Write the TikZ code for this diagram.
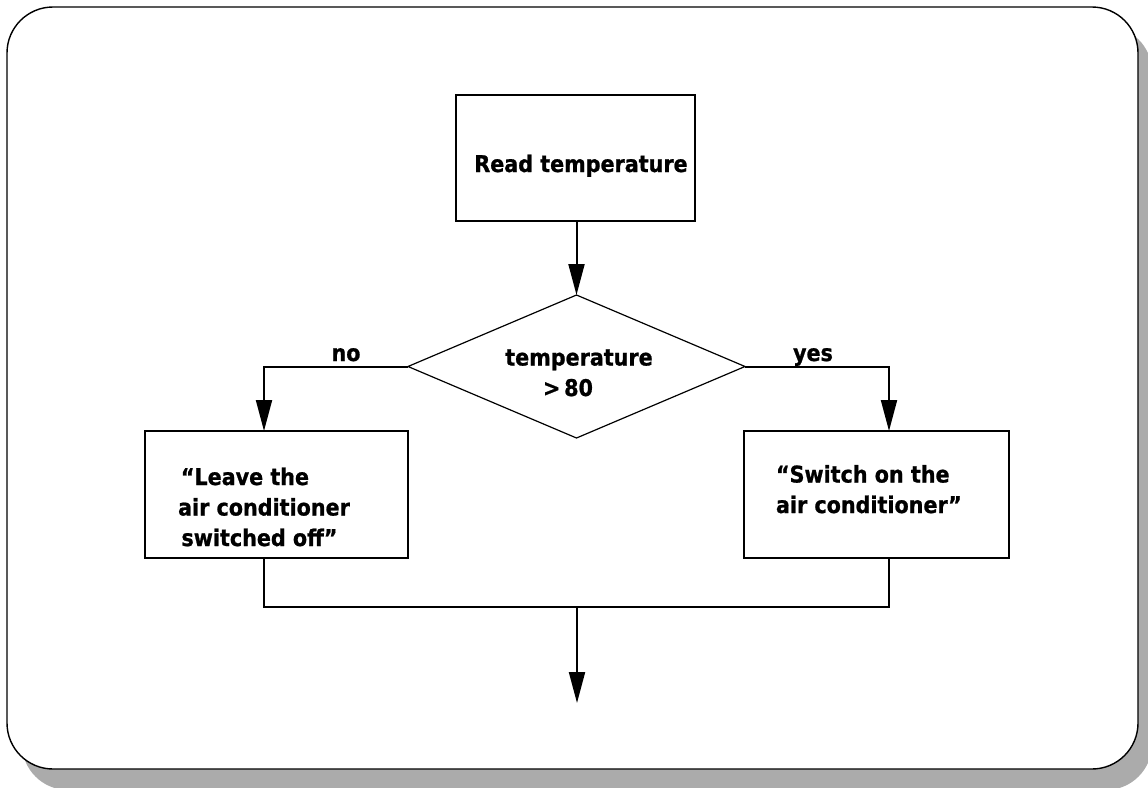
\documentclass[tikz,border=0pt]{standalone}
\usepackage{fontspec}
\setmainfont{DejaVu Sans Condensed}[BoldFont={DejaVu Sans Condensed Bold},BoldFeatures={FakeBold=0.9}]
\usetikzlibrary{arrows.meta,shapes.geometric}
\begin{document}
\begin{tikzpicture}[x=1pt,y=-1pt,
  every node/.style={inner sep=0pt,outer sep=0pt},
  frame/.style={draw=black,line width=1.4pt,fill=white,rounded corners=46pt},
  shade/.style={fill=black!33,rounded corners=46pt},
  stepbox/.style={draw=black,line width=2pt,rectangle},
  decide/.style={draw=black,line width=1.2pt,diamond,aspect=2.37},
  lbl/.style={font=\fontsize{23}{30.5}\selectfont\bfseries,text=black},
  wire/.style={draw=black,line width=2pt},
  flow/.style={wire,-{Triangle[width=16pt,length=31pt]}}
]
\useasboundingbox (0,0) rectangle (1148,787);
% page frame with its drop shadow
\begin{scope}
  \clip (0,0) rectangle (1148,787);
  \path[shade] (22,26) rectangle (1152,790);
  \path[frame] (7,7) rectangle (1138,769);
\end{scope}

% boxes
\node[stepbox,minimum width=239pt,minimum height=126pt] (read) at (575.5,158) {};
\node[decide,minimum width=337pt,minimum height=143pt] (test) at (576.5,366.5) {};
\node[stepbox,minimum width=263pt,minimum height=127pt] (leave) at (276.5,494.5) {};
\node[stepbox,minimum width=265pt,minimum height=127pt] (switch) at (876.5,494.5) {};

% texts (multi-line nodes sit on the baseline of their last line)
\node[lbl,anchor=base] (readtxt) at (581,172) {Read temperature};
\node[lbl,anchor=base,align=center] (testtxt) at (579,396) {temperature\\{>}\,80\hspace*{22pt}};
\node[lbl,anchor=base,align=center] (leavetxt) at (264,546) {“Leave the\hspace*{38pt}\\air conditioner\\switched off”\hspace*{9pt}};
\node[lbl,anchor=base west,align=left] (switchtxt) at (776,513) {“Switch on the\\air conditioner”};
\node[lbl,anchor=base] (nolbl) at (346,361) {no};
\node[lbl,anchor=base] (yeslbl) at (813,361) {yes};

% connectors
\coordinate (leavein) at (264,431);
\coordinate (switchin) at (889,431);
\coordinate (leaveout) at (264,558);
\coordinate (switchout) at (889,558);
\coordinate (merge) at (577,607);
\coordinate (exit) at (577,703);

\draw[flow] (read.south -| test.north) -- (test.north);
\draw[flow] (test.west) -| (leavein);
\draw[flow] (test.east) -| (switchin);
\draw[wire] (leaveout) |- (merge -| switchout) -- (switchout);
\draw[flow] (merge) -- (exit);
\end{tikzpicture}
\end{document}
